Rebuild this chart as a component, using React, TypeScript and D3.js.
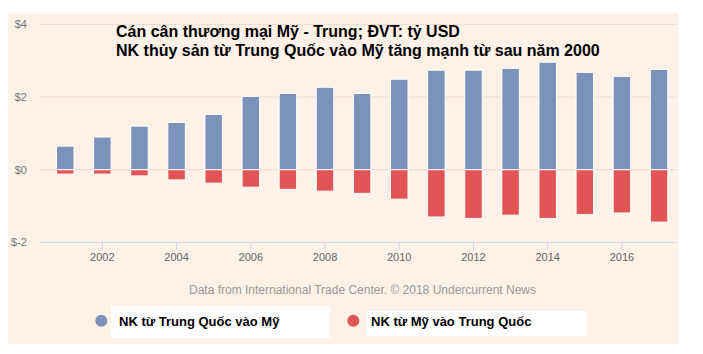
import React from "react";
import * as d3 from "d3";

const years = [2001,2002,2003,2004,2005,2006,2007,2008,2009,2010,2011,2012,2013,2014,2015,2016,2017];
const chinaToUS = [0.65,0.90,1.20,1.30,1.52,2.02,2.10,2.27,2.10,2.49,2.74,2.74,2.79,2.96,2.68,2.57,2.76];
const usToChina = [-0.12,-0.12,-0.17,-0.28,-0.37,-0.48,-0.54,-0.59,-0.65,-0.81,-1.30,-1.34,-1.25,-1.34,-1.23,-1.19,-1.44];
const yTicks = [-2, 0, 2, 4];
const xTicks = [2002,2004,2006,2008,2010,2012,2014,2016];
const titleLines = ["Cán cân thương mại Mỹ - Trung; ĐVT: tỷ USD", "NK thủy sản từ Trung Quốc vào Mỹ tăng mạnh từ sau năm 2000"];
const seriesNames = ["NK từ Trung Quốc vào Mỹ", "NK từ Mỹ vào Trung Quốc"];
const colors = ["#7b93b8", "#e05456"];
const credit = "Data from International Trade Center. © 2018 Undercurrent News";

export default function App() {
  const W = 703, H = 354;
  const x = d3.scaleLinear().domain([2000.32, 2017.5]).range([40, 677.6]);
  const y = d3.scaleLinear().domain([-2, 4]).range([242.4, 24.4]);
  const bw = 17.5;
  const font = "Arial, 'Liberation Sans', sans-serif";
  return (
    <svg width={W} height={H} style={{ position: "absolute", left: 0, top: 0, display: "block" }} fontFamily={font}>
      <rect x={0} y={0} width={W} height={H} fill="#ffffff" />
      <rect x={8} y={13} width={670} height={331} fill="#fdf1e8" />
      {yTicks.map((t) => (
        <g key={t}>
          {t !== -2 && <line x1={40} x2={677.6} y1={y(t)} y2={y(t)} stroke="#e6dfd8" strokeWidth={1} />}
          <text x={27} y={y(t) + 4} textAnchor="end" fontSize={11} fill="#777">{`$${t}`}</text>
        </g>
      ))}
      {years.map((yr, i) => (
        <g key={yr}>
          <rect x={x(yr) - bw / 2} y={y(chinaToUS[i])} width={bw} height={y(0) - y(chinaToUS[i])} fill={colors[0]} stroke="#fff" strokeWidth={1} />
          <rect x={x(yr) - bw / 2} y={y(0)} width={bw} height={y(usToChina[i]) - y(0)} fill={colors[1]} stroke="#fff" strokeWidth={1} />
        </g>
      ))}
      <line x1={40} x2={677.6} y1={y(-2)} y2={y(-2)} stroke="#ccd6eb" strokeWidth={1} />
      {xTicks.map((t) => (
        <g key={t}>
          <line x1={x(t)} x2={x(t)} y1={y(-2)} y2={y(-2) + 8} stroke="#ccd6eb" strokeWidth={1} />
          <text x={x(t)} y={261} textAnchor="middle" fontSize={11} fill="#666">{t}</text>
        </g>
      ))}
      {titleLines.map((l, i) => (
        <text key={i} x={116} y={37 + i * 18.5} fontSize={16} fontWeight="bold" fill="#000">{l}</text>
      ))}
      <text x={362.5} y={293.5} textAnchor="middle" fontSize={12} fill="#999">{credit}</text>
      <rect x={111} y={306} width={219} height={32} fill="#fff" />
      <circle cx={101.3} cy={320.7} r={6} fill={colors[0]} />
      <text x={119} y={325.5} fontSize={13} fontWeight="bold" fill="#000">{seriesNames[0]}</text>
      <rect x={366} y={311} width={221} height={25} fill="#fff" />
      <circle cx={353.3} cy={320.7} r={6} fill={colors[1]} />
      <text x={371} y={325.5} fontSize={13} fontWeight="bold" fill="#000">{seriesNames[1]}</text>
    </svg>
  );
}
